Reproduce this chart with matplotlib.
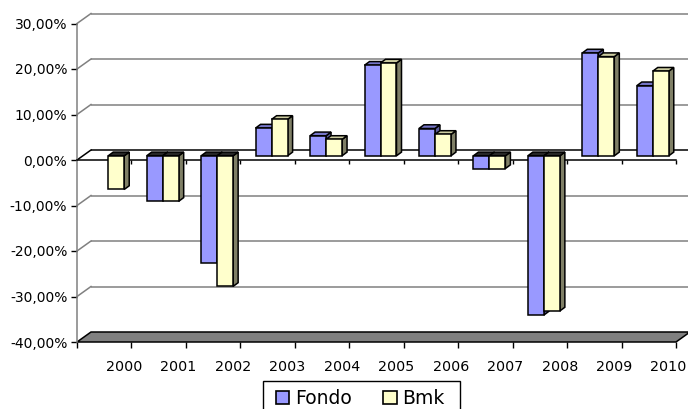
import matplotlib
matplotlib.use("Agg")
import matplotlib.pyplot as plt
from matplotlib.patches import Polygon, Patch, Rectangle
from matplotlib.ticker import FuncFormatter, FixedLocator
import numpy as np

years = ["2000", "2001", "2002", "2003", "2004", "2005",
         "2006", "2007", "2008", "2009", "2010"]
fondo = [np.nan, -9.9, -23.5, 6.1, 4.4, 19.9, 6.0, -2.8, -35.0, 22.6, 15.4]
bmk = [-7.4, -10.0, -28.7, 8.0, 3.6, 20.4, 4.7, -2.8, -34.1, 21.8, 18.6]
series_names = ["Fondo", "Bmk"]
y_ticks = [-40, -30, -20, -10, 0, 10, 20, 30]

# face colours: front, top (positive), side
colours = {
    "Fondo": ("#9999FF", "#7575C8", "#5C5C99"),
    "Bmk": ("#FFFFCC", "#CCCCA0", "#7F7F66"),
}
neg_top = "#262626"

W, H, DPI = 688, 409, 100
fig = plt.figure(figsize=(W / DPI, H / DPI), dpi=DPI)
fig.patch.set_facecolor("white")

# front plane of the 3-D box
left_px, right_px, top_px, bot_px = 77, 676, 23.5, 342
ax = fig.add_axes([left_px / W, 1 - bot_px / H,
                   (right_px - left_px) / W, (bot_px - top_px) / H])
n = len(years)
ymin, ymax = -40, 30
ax.set_xlim(0, n)
ax.set_ylim(ymin, ymax)
ax.set_facecolor("none")
for s in ax.spines.values():
    s.set_visible(False)

# pixel -> data unit conversions
px_x = n / (right_px - left_px)
px_y = (ymax - ymin) / (bot_px - top_px)

# depth of the walls, offset of bar fronts, depth of the bars
wall_dx, wall_dy = 14 * px_x, 10 * px_y
bar_ox, bar_oy = 4 * px_x, 4.2 * px_y
bar_dx, bar_dy = 5 * px_x, 3.7 * px_y
bar_w = 16 * px_x

grid_c = "#808080"
# back-wall gridlines and left-wall diagonals
for yv in y_ticks[1:]:
    c = "black" if yv == 0 else grid_c
    ax.plot([wall_dx, n + wall_dx], [yv + wall_dy, yv + wall_dy],
            color=c, lw=1.1, clip_on=False, zorder=1, solid_capstyle="butt")
    ax.plot([0, wall_dx], [yv, yv + wall_dy], color=c, lw=1.1,
            clip_on=False, zorder=1)

# floor
floor = Polygon([(0, ymin), (n, ymin), (n + wall_dx, ymin + wall_dy),
                 (wall_dx, ymin + wall_dy)], closed=True,
                facecolor="#808080", edgecolor="black", lw=1.1,
                clip_on=False, zorder=2)
ax.add_patch(floor)

# vertical axis line
ax.plot([0, 0], [ymin, ymax], color=grid_c, lw=1.1, clip_on=False, zorder=2)

# category axis at zero with its ticks
ax.plot([0, n], [0, 0], color="black", lw=1.1, clip_on=False, zorder=3)
ax.vlines(np.arange(1, n + 1), -4 * px_y, 0, color="black", lw=1.0,
          zorder=3, clip_on=False)


def draw_bar(x0, v, front, top, side, z):
    if np.isnan(v):
        return
    fx0 = x0 + bar_ox
    fx1 = fx0 + bar_w
    y0 = bar_oy
    y1 = v + bar_oy
    lo, hi = min(y0, y1), max(y0, y1)
    kw = dict(closed=True, edgecolor="black", lw=1.1, clip_on=False,
              joinstyle="miter")
    # side face
    ax.add_patch(Polygon([(fx1, lo), (fx1, hi), (fx1 + bar_dx, hi + bar_dy),
                          (fx1 + bar_dx, lo + bar_dy)], facecolor=side,
                         zorder=z, **kw))
    # top face
    tc = top if v >= 0 else neg_top
    ax.add_patch(Polygon([(fx0, hi), (fx1, hi), (fx1 + bar_dx, hi + bar_dy),
                          (fx0 + bar_dx, hi + bar_dy)], facecolor=tc,
                         zorder=z, **kw))
    # front face
    ax.add_patch(Polygon([(fx0, lo), (fx1, lo), (fx1, hi), (fx0, hi)],
                         facecolor=front, zorder=z + 0.1, **kw))


z = 5
for i in range(n):
    centre = i + 0.5
    for j, (name, vals) in enumerate(zip(series_names, [fondo, bmk])):
        x0 = centre - bar_w + j * bar_w
        draw_bar(x0, vals[i], *colours[name], z)
        z += 1

# y axis ticks and labels
ax.yaxis.set_major_locator(FixedLocator(y_ticks))
ax.yaxis.set_major_formatter(
    FuncFormatter(lambda v, p: f"{v:.2f}".replace(".", ",") + "%"))
ax.tick_params(axis="y", direction="out", length=4, width=1.0,
               color="black", pad=3, labelsize=10, labelcolor="black")

# x axis: boundary ticks under the floor, year labels as minor ticks
ax.xaxis.set_major_locator(FixedLocator(np.arange(0, n + 1)))
ax.xaxis.set_major_formatter(FuncFormatter(lambda v, p: ""))
ax.xaxis.set_minor_locator(FixedLocator(np.arange(n) + 0.865))
ax.set_xticklabels(years, minor=True)
ax.tick_params(axis="x", which="major", direction="out", length=4.5,
               width=1.0, color="black")
ax.tick_params(axis="x", which="minor", length=0, pad=13, labelsize=10.3)

# legend
handles = [Patch(facecolor=colours[nm][0], edgecolor="black", lw=1.2)
           for nm in series_names]
leg = fig.legend(handles, series_names, ncol=2, loc="center left",
                 bbox_to_anchor=(276 / W, 1 - 398.5 / H), frameon=False,
                 fontsize=13.5, handlelength=0.7, handleheight=0.7,
                 handletextpad=0.3, columnspacing=1.7, borderpad=0,
                 borderaxespad=0)
fig.add_artist(Rectangle((262.7 / W, -0.05), (460 - 262.7) / W,
                         1 - 380.7 / H + 0.05, transform=fig.transFigure,
                         facecolor="none", edgecolor="black", lw=1.0,
                         clip_on=False))

fig.savefig("out.png", dpi=DPI)
